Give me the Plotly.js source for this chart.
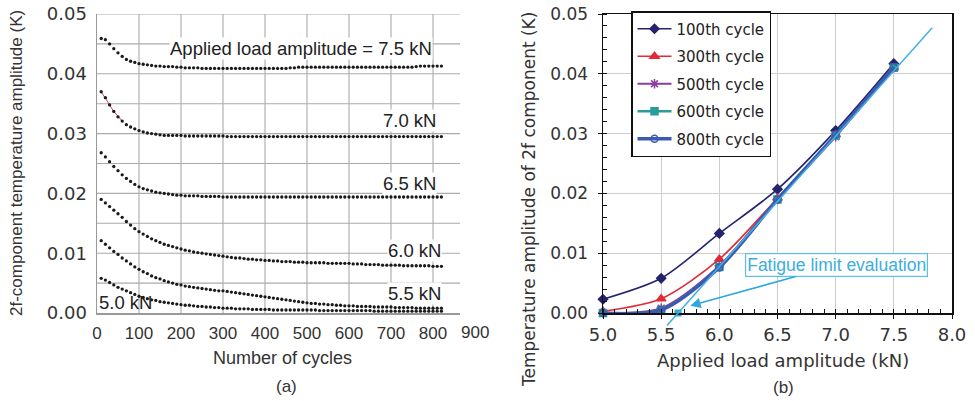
<!DOCTYPE html>
<html><head><meta charset="utf-8">
<script src="https://cdn.plot.ly/plotly-3.0.1.min.js"></script>
<style>html,body{margin:0;padding:0;background:#fff}#chart{width:975px;height:401px}</style>
</head><body><div id="chart"></div>
<script>
// ---------- Panel (a): 2f-component temperature amplitude vs number of cycles ----------
const cycles = [10,20,30,40,50,60,70,80,90,100,110,120,130,140,150,160,170,180,190,200,
  210,220,230,240,250,260,270,280,290,300,310,320,330,340,350,360,370,380,390,400,
  410,420,430,440,450,460,470,480,490,500,510,520,530,540,550,560,570,580,590,600,
  610,620,630,640,650,660,670,680,690,700,710,720,730,740,750,760,770,780,790,800,810,820];
const amp75 = [.0459,.0457,.0450,.0442,.0435,.0429,.0424,.0421,.0419,.0417,
  .0416,.0415,.0414,.0413,.0413,.0412,.0412,.0412,.0411,.0411,
  .0410,.0410,.0410,.0410,.0409,.0409,.0409,.0409,.0409,.0409,
  .0409,.0409,.0409,.0409,.0409,.0409,.0409,.0409,.0409,.0409,
  .0409,.0409,.0409,.0409,.0409,.0410,.0410,.0411,.0411,.0411,
  .0411,.0411,.0411,.0411,.0411,.0411,.0411,.0411,.0411,.0411,
  .0411,.0411,.0411,.0411,.0411,.0411,.0411,.0411,.0411,.0411,
  .0411,.0411,.0411,.0411,.0411,.0412,.0413,.0413,.0413,.0413,.0413,.0413];
const amp70 = [.0370,.0360,.0348,.0337,.0328,.0321,.0315,.0311,.0308,.0305,
  .0303,.0301,.0300,.0299,.0298,.0297,.0297,.0297,.0297,.0297,
  .0296,.0296,.0296,.0296,.0296,.0296,.0296,.0296,.0296,.0296,
  .0295,.0295,.0295,.0295,.0295,.0295,.0295,.0295,.0295,.0295,
  .0295,.0295,.0295,.0295,.0295,.0295,.0295,.0295,.0295,.0295,
  .0295,.0295,.0295,.0295,.0295,.0295,.0295,.0295,.0295,.0295,
  .0295,.0295,.0295,.0295,.0295,.0295,.0295,.0295,.0295,.0295,
  .0295,.0295,.0295,.0295,.0295,.0295,.0295,.0295,.0295,.0295,.0295,.0295];
const amp65 = [.0268,.0261,.0253,.0245,.0238,.0231,.0225,.0220,.0215,.0211,
  .0208,.0206,.0204,.0202,.0201,.0200,.0199,.0198,.0197,.0197,
  .0196,.0196,.0196,.0196,.0195,.0195,.0195,.0195,.0195,.0194,
  .0194,.0194,.0194,.0194,.0194,.0194,.0194,.0194,.0194,.0194,
  .0194,.0194,.0194,.0194,.0194,.0194,.0194,.0194,.0194,.0194,
  .0194,.0194,.0194,.0194,.0194,.0194,.0194,.0194,.0194,.0194,
  .0194,.0194,.0194,.0194,.0194,.0194,.0194,.0194,.0194,.0194,
  .0194,.0194,.0194,.0194,.0194,.0194,.0194,.0194,.0194,.0194,.0194,.0194];
const amp60 = [.0190,.0184,.0178,.0172,.0166,.0160,.0153,.0147,.0141,.0136,
  .0132,.0128,.0124,.0121,.0118,.0115,.0113,.0111,.0109,.0107,
  .0105,.0104,.0102,.0101,.0100,.0099,.0098,.0097,.0096,.0095,
  .0094,.0093,.0092,.0092,.0091,.0090,.0090,.0089,.0089,.0088,
  .0088,.0087,.0087,.0086,.0086,.0086,.0085,.0085,.0085,.0084,
  .0084,.0084,.0084,.0084,.0083,.0083,.0083,.0083,.0083,.0083,
  .0082,.0082,.0082,.0081,.0081,.0081,.0081,.0080,.0080,.0080,
  .0080,.0080,.0079,.0079,.0079,.0079,.0079,.0079,.0079,.0078,.0078,.0078];
const amp55 = [.0121,.0115,.0109,.0103,.0098,.0092,.0087,.0082,.0077,.0073,
  .0069,.0066,.0062,.0059,.0057,.0054,.0052,.0050,.0048,.0047,
  .0045,.0044,.0043,.0042,.0041,.0040,.0039,.0038,.0037,.0037,
  .0036,.0035,.0034,.0033,.0032,.0031,.0030,.0029,.0028,.0027,
  .0026,.0025,.0024,.0023,.0022,.0021,.0020,.0019,.0018,.0017,
  .0016,.0016,.0015,.0015,.0014,.0014,.0013,.0013,.0012,.0012,
  .0012,.0011,.0011,.0011,.0011,.0010,.0010,.0010,.0010,.0010,
  .0009,.0009,.0009,.0009,.0009,.0008,.0008,.0008,.0008,.0008,.0008,.0008];
const amp50 = [.0058,.0055,.0051,.0047,.0043,.0040,.0037,.0034,.0031,.0028,
  .0026,.0024,.0022,.0021,.0019,.0018,.0017,.0016,.0015,.0014,
  .0013,.0013,.0012,.0011,.0011,.0010,.0010,.0009,.0009,.0008,
  .0008,.0008,.0007,.0007,.0007,.0007,.0006,.0006,.0006,.0006,
  .0006,.0005,.0005,.0005,.0005,.0005,.0005,.0005,.0005,.0005,
  .0005,.0005,.0004,.0004,.0004,.0004,.0004,.0004,.0004,.0004,
  .0004,.0004,.0004,.0004,.0004,.0003,.0003,.0003,.0003,.0003,
  .0003,.0003,.0003,.0003,.0003,.0003,.0003,.0003,.0003,.0003,.0003,.0003];
const curveLabels = ["Applied load amplitude = 7.5 kN","7.0 kN","6.5 kN","6.0 kN","5.5 kN","5.0 kN"];
const curveLabelX = [486, 745, 745, 755, 755, 67];
const curveLabelY = [0.0442, 0.0322, 0.0216, 0.0105, 0.0033, 0.0017];
const cycleTicks = [0,100,200,300,400,500,600,700,800];
const cycleExtraTick = "900";
const ampGridVals = [0,0.005,0.01,0.015,0.02,0.025,0.03,0.035,0.04,0.045,0.05];
const ampGridText = ["0.00","","0.01","","0.02","","0.03","","0.04","","0.05"];

// ---------- Panel (b): temperature amplitude vs applied load amplitude ----------
const loads = [5.0, 5.5, 6.0, 6.5, 7.0, 7.5];
const seriesNames = ["100th cycle","300th cycle","500th cycle","600th cycle","800th cycle"];
const c100 = [0.0023, 0.0058, 0.0133, 0.0207, 0.0305, 0.0417];
const c300 = [0.0003, 0.0024, 0.0090, 0.0192, 0.0298, 0.0410];
const c500 = [0.0000, 0.0008, 0.0079, 0.0190, 0.0295, 0.0410];
const c600 = [0.0000, 0.0005, 0.0077, 0.0190, 0.0297, 0.0410];
const c800 = [0.0000, 0.0005, 0.0076, 0.0190, 0.0298, 0.0411];
const fitX = [5.55, 7.83];
const fitY = [-0.0021, 0.0477];
const limitX = [5.645];
const limitY = [0.0];
const arrowHead = [5.75, 0.0012];
const arrowText = [7.01, 0.0080];
const arrowLabel = "Fatigue limit evaluation";

// ---------- geometry (pixels) ----------
const W = 975, H = 401;
const aL = 97, aR = 460, bL = 603, bR = 952, pT = 14, pB = 313, ext = 25;
const fx = p => p / W, fy = p => 1 - p / H;
const aXmax = 800 * (aR - aL) / (433 - aL);

// gridlines of panel (a) as one line trace built from the tick arrays
const gx = [], gy = [];
cycleTicks.forEach(v => { if (v > 0) { gx.push(v, v, null); gy.push(0, 0.05, null); } });
ampGridVals.forEach(v => { if (v > 0) { gx.push(0, aXmax, null); gy.push(v, v, null); } });
const traces = [{x: gx, y: gy, type: 'scatter', mode: 'lines', connectgaps: false,
  line: {color: '#aaaaaa', width: 1.1}, xaxis: 'x', yaxis: 'y', showlegend: false, hoverinfo: 'skip'}];

const dotMarker = {size: 3.3, color: '#1a1a1a'};
const leftSeries = [amp75, amp70, amp65, amp60, amp55, amp50];
traces.push({x: cycles.slice(0, 6), y: amp70.slice(0, 6), type: 'scatter', mode: 'lines',
  line: {color: '#d04060', width: 1}, xaxis: 'x', yaxis: 'y', showlegend: false, hoverinfo: 'skip'});
leftSeries.forEach(v => traces.push({
  x: cycles, y: v, type: 'scatter', mode: 'markers', marker: dotMarker,
  xaxis: 'x', yaxis: 'y', showlegend: false, hoverinfo: 'skip'
}));

const rs = [
  {y: c100, color: '#24246e', sym: 'diamond', size: 7, w: 1.6},
  {y: c300, color: '#e02a36', sym: 'triangle-up', size: 8, w: 1.6},
  {y: c500, color: '#8a3fa0', sym: 'asterisk-open', size: 8, w: 2},
  {y: c600, color: '#2a9d9a', sym: 'square', size: 7, w: 2.5},
  {y: c800, color: '#3c5bb0', sym: 'circle-open', size: 7, w: 3.5}
];
rs.forEach((s, i) => traces.push({
  x: loads, y: s.y, type: 'scatter', mode: 'lines+markers', name: seriesNames[i],
  legendgroup: 'g' + i,
  line: {color: s.color, width: s.w, shape: 'spline', smoothing: 0.8},
  marker: {symbol: s.sym, size: s.size, color: s.color, line: {color: s.color, width: 1.5}},
  xaxis: 'x2', yaxis: 'y2', cliponaxis: false
}));
traces.push({x: fitX, y: fitY, type: 'scatter', mode: 'lines', line: {color: '#3fb2e2', width: 1.5},
  xaxis: 'x3', yaxis: 'y3', showlegend: false, hoverinfo: 'skip'});
traces.push({x: limitX, y: limitY, type: 'scatter', mode: 'markers',
  marker: {symbol: 'square', size: 7, color: '#2ab0c0'}, xaxis: 'x2', yaxis: 'y2',
  showlegend: false, cliponaxis: false, hoverinfo: 'skip'});

const annotations = curveLabels.map((t, i) => ({
  text: t, x: curveLabelX[i], y: curveLabelY[i], xref: 'x', yref: 'y', showarrow: false,
  xanchor: 'center', yanchor: 'middle',
  font: {family: 'Liberation Sans, Arial', size: 18.5, color: '#222'},
  bgcolor: i === 5 ? 'rgba(0,0,0,0)' : '#fff', borderpad: 0
}));
const pap = (text, px, py, size, family, angle) => ({
  text: text, x: fx(px), y: fy(py), xref: 'paper', yref: 'paper', showarrow: false,
  xanchor: 'center', yanchor: 'middle', textangle: angle || 0,
  font: {family: family, size: size, color: '#333'}
});
annotations.push(
  pap(cycleExtraTick, 475, 332, 17, 'Liberation Sans, Arial'),
  pap('2f-component temperature amplitude (K)', 16, 163, 17, 'Liberation Sans, Arial', -90),
  pap('Number of cycles', 282, 358, 18, 'Liberation Sans, Arial'),
  pap('(a)', 286, 386, 17, 'Liberation Sans, Arial'),
  pap('Temperature amplitude of 2f component (K)', 529, 200, 17, 'DejaVu Sans', -90),
  pap('Applied load amplitude (kN)', 783, 360, 18, 'DejaVu Sans'),
  pap('(b)', 783, 387, 17, 'Liberation Sans, Arial'),
  {text: arrowLabel, x: arrowHead[0], y: arrowHead[1], ax: arrowText[0], ay: arrowText[1],
   xref: 'x2', yref: 'y2', axref: 'x2', ayref: 'y2', showarrow: true, arrowhead: 2, arrowsize: 1.3,
   arrowwidth: 1.6, arrowcolor: '#30a8de', bgcolor: '#fff', bordercolor: '#5cc0e6', borderwidth: 1.2,
   borderpad: 1, font: {family: 'Liberation Sans, Arial', size: 17.5, color: '#3aaedf'}}
);

const layout = {
  width: W, height: H, margin: {l: 0, r: 0, t: 0, b: 0}, paper_bgcolor: '#fff',
  plot_bgcolor: 'rgba(0,0,0,0)',
  showlegend: true,
  legend: {x: fx(631), y: fy(11), xanchor: 'left', yanchor: 'top', bgcolor: '#fff',
    bordercolor: '#111', borderwidth: 1.5, traceorder: 'grouped', tracegroupgap: 5, itemwidth: 34,
    font: {family: 'DejaVu Sans', size: 15, color: '#222'}},
  xaxis: {domain: [fx(aL), fx(aR)], range: [0, aXmax], tickvals: cycleTicks, showgrid: false,
    zeroline: false, showline: true, linecolor: '#999', linewidth: 1.5, ticks: '',
    ticklabelstandoff: 4, tickfont: {family: 'Liberation Sans, Arial', size: 17, color: '#333'},
    anchor: 'y', fixedrange: true},
  yaxis: {domain: [fy(pB), fy(pT)], range: [0, 0.05], tickvals: ampGridVals, ticktext: ampGridText,
    showgrid: false, zeroline: false, showline: true, linecolor: '#999',
    linewidth: 1.5, ticks: '', ticklabelstandoff: 5, tickfont: {family: 'DejaVu Sans', size: 18, color: '#333'},
    anchor: 'x', fixedrange: true},
  xaxis2: {domain: [fx(bL), fx(bR)], range: [5, 8], dtick: 0.5, tickformat: '.1f', showgrid: true,
    gridcolor: '#cdcdcd', zeroline: false, showline: true, mirror: true, linecolor: '#111', linewidth: 1.5,
    ticks: 'outside', ticklen: 4, tickcolor: '#111', ticklabelstandoff: 1,
    tickfont: {family: 'DejaVu Sans', size: 18, color: '#333'},
    minor: {dtick: 0.1, ticks: 'inside', ticklen: 4, tickcolor: '#111', showgrid: false},
    anchor: 'y2', fixedrange: true},
  yaxis2: {domain: [fy(pB), fy(pT)], range: [0, 0.05], dtick: 0.01, tickformat: '.2f', showgrid: true,
    gridcolor: '#cdcdcd', zeroline: false, showline: true, mirror: true, linecolor: '#111', linewidth: 1.5,
    ticks: 'outside', ticklen: 4, tickcolor: '#111', ticklabelstandoff: 6,
    tickfont: {family: 'DejaVu Sans', size: 17, color: '#333'},
    minor: {dtick: 0.002, ticks: 'inside', ticklen: 4, tickcolor: '#111', showgrid: false},
    anchor: 'x2', fixedrange: true},
  xaxis3: {domain: [fx(bL), fx(bR)], range: [5, 8], visible: false, anchor: 'y3', fixedrange: true},
  yaxis3: {domain: [fy(pB + ext), fy(pT)], range: [-0.05 * ext / (pB - pT), 0.05], visible: false,
    anchor: 'x3', fixedrange: true},
  annotations: annotations
};
Plotly.newPlot('chart', traces, layout, {displayModeBar: false, staticPlot: true});
</script></body></html>
